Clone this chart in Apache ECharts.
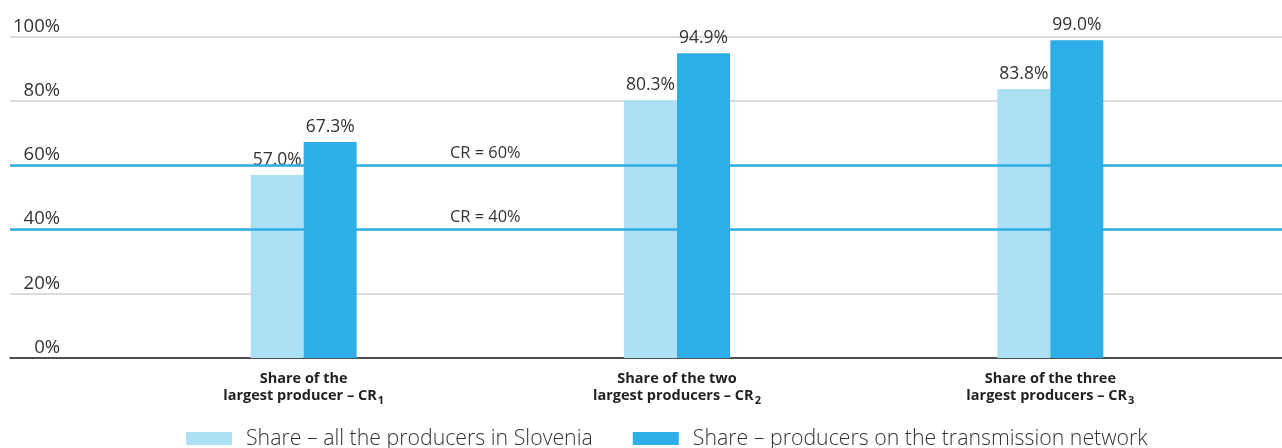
<!DOCTYPE html>
<html><head><meta charset="utf-8">
<script src="https://cdn.jsdelivr.net/npm/echarts@6/dist/echarts.min.js"></script>
<style>html,body{margin:0;padding:0;background:#fff}#c{width:1282px;height:448px}</style>
</head><body><div id="c"></div>
<script>
const categories = ['Share of the\nlargest producer – CR', 'Share of the two\nlargest producers – CR', 'Share of the three\nlargest producers – CR'];
const categorySubscripts = ['1', '2', '3'];
const seriesNames = ['Share – all the producers in Slovenia', 'Share – producers on the transmission network'];
const allProducers = [57.0, 80.3, 83.8];
const transmission = [67.3, 94.9, 99.0];
const crLevels = [60, 40];
const crLabels = ['CR = 60%', 'CR = 40%'];
const yTicks = [0, 20, 40, 60, 80, 100];

const LIGHT = '#abdff4', DARK = '#2eaee6';
const FONT = 'Open Sans';
const chart = echarts.init(document.getElementById('c'), null, {renderer: 'canvas'});
chart.setOption({
  animation: false,
  textStyle: {fontFamily: FONT},
  grid: [
    {left: 10, right: 0, top: 37, bottom: 90},
    {left: 117, right: 45, top: 37, bottom: 90}
  ],
  xAxis: [
    {gridIndex: 0, type: 'category', data: ['a'], axisLine: {show: true, lineStyle: {color: '#222', width: 1.5}}, axisTick: {show: false}, axisLabel: {show: false}},
    {gridIndex: 1, type: 'category', data: categories, axisLine: {show: false}, axisTick: {show: false},
     axisLabel: {margin: 12, color: '#222', fontFamily: FONT,
       formatter: (v, i) => {
         const lines = v.split('\n');
         return '{b|' + lines[0] + '}\n{b|' + lines[1] + '}{s|' + categorySubscripts[i] + '}';
       },
       rich: {
         b: {fontWeight: 'bold', fontSize: 14.5, lineHeight: 17, color: '#222', fontFamily: FONT},
         s: {fontWeight: 'bold', fontSize: 11, lineHeight: 17, color: '#222', fontFamily: FONT, padding: [11, 0, 0, 1]}
       }}}
  ],
  yAxis: [
    {gridIndex: 0, type: 'value', min: yTicks[0], max: yTicks[yTicks.length-1], interval: 20,
     axisLine: {show: false}, axisTick: {show: false},
     splitLine: {lineStyle: {color: '#cfcfcf', width: 1.5}},
     axisLabel: {inside: true, margin: 50, align: 'right', verticalAlign: 'bottom', padding: [0,0,1,0], color: '#333', fontSize: 18.5, fontFamily: FONT, formatter: '{value}%'}},
    {gridIndex: 1, type: 'value', min: 0, max: 100, show: false}
  ],
  legend: {
    top: 423, left: 181, itemWidth: 46, itemHeight: 13, itemGap: 40, icon: 'rect',
    textStyle: {fontSize: 21.3, color: '#333', fontWeight: 300, fontFamily: FONT, padding: [0,0,0,9]},
    data: seriesNames
  },
  series: [
    {type: 'line', xAxisIndex: 0, yAxisIndex: 0, data: [], silent: true,
     markLine: {silent: true, symbol: 'none',
       lineStyle: {color: DARK, width: 2.5, type: 'solid'},
       label: {position: 'insideStartTop', distance: [440, 4], color: '#333', fontSize: 16.4, fontFamily: FONT},
       data: crLevels.map((v, i) => ({yAxis: v, label: {formatter: crLabels[i]}}))}},
    {name: seriesNames[0], type: 'bar', xAxisIndex: 1, yAxisIndex: 1, data: allProducers, barWidth: 53, barGap: '0%',
     itemStyle: {color: LIGHT},
     label: {show: true, position: 'top', distance: 6, color: '#333', fontSize: 17.5, fontFamily: FONT, formatter: p => p.value.toFixed(1) + '%'}},
    {name: seriesNames[1], type: 'bar', xAxisIndex: 1, yAxisIndex: 1, data: transmission, barWidth: 53, barGap: '0%',
     itemStyle: {color: DARK},
     label: {show: true, position: 'top', distance: 6, color: '#333', fontSize: 17.5, fontFamily: FONT, formatter: p => p.value.toFixed(1) + '%'}}
  ]
});
</script></body></html>
